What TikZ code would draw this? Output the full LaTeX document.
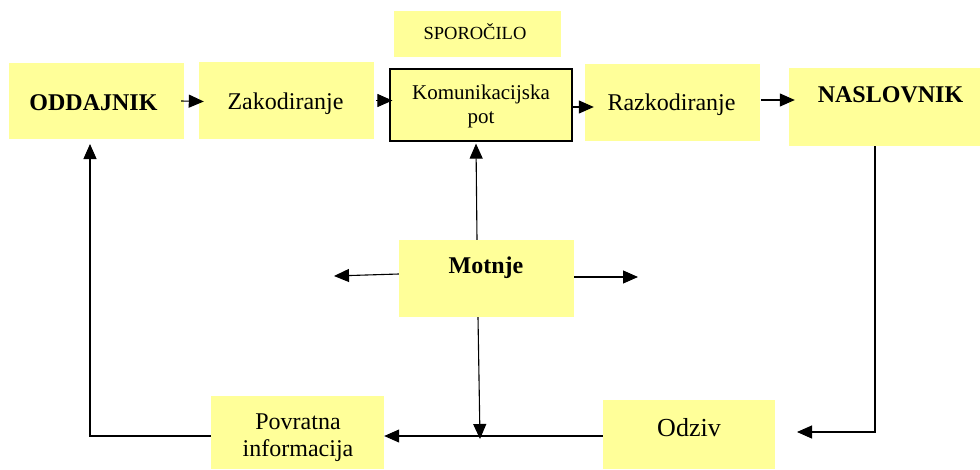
\documentclass[tikz,border=0pt]{standalone}
\usepackage{fontspec}
\setmainfont{Liberation Serif}
\usetikzlibrary{arrows.meta}
\definecolor{boxyellow}{HTML}{FFFF99}
\begin{document}
\begin{tikzpicture}[x=1pt,y=-1pt,
  box/.style={fill=boxyellow, draw=none, inner sep=0pt, anchor=center},
  framed/.style={box, draw=black, line width=1.2pt},
  txt/.style={anchor=base, inner sep=0pt, align=center},
  arr/.style={draw=black, line width=1.1pt, -{Triangle[length=15pt,width=13pt]}},
  ln/.style={draw=black, line width=1.1pt}]
\useasboundingbox (0,0) rectangle (980,469);
% boxes
\node[box, minimum width=175pt, minimum height=76pt] (odd) at (96.5,101) {};
\node[box, minimum width=175pt, minimum height=77pt] (zak) at (286.5,100.5) {};
\node[box, minimum width=167pt, minimum height=46pt] (spo) at (477.5,34) {};
\node[framed, minimum width=182pt, minimum height=72pt] (kom) at (481,105) {};
\node[box, minimum width=175pt, minimum height=77pt] (raz) at (672.5,102.5) {};
\node[box, minimum width=191pt, minimum height=78pt] (nas) at (884.5,107) {};
\node[box, minimum width=175pt, minimum height=77pt] (mot) at (486.5,278.5) {};
\node[box, minimum width=173pt, minimum height=73pt] (pov) at (297.5,432.5) {};
\node[box, minimum width=172pt, minimum height=69pt] (odz) at (689,434.5) {};
% texts
\node[txt, font=\fontsize{24}{27}\selectfont\bfseries] (oddT) at (93.5,110) {ODDAJNIK};
\node[txt, font=\fontsize{24}{27}\selectfont] (zakT) at (285.5,109) {Zakodiranje};
\node[txt, font=\fontsize{18.5}{22}\selectfont] (spoT) at (475,39) {SPOROČILO};
\node[txt, font=\fontsize{21}{24}\selectfont] (komT) at (481,123) {Komunikacijska\\pot};
\node[txt, font=\fontsize{24}{27}\selectfont] (razT) at (671.5,110) {Razkodiranje};
\node[txt, font=\fontsize{24}{27}\selectfont\bfseries] (nasT) at (890.5,102) {NASLOVNIK};
\node[txt, font=\fontsize{24}{27}\selectfont\bfseries] (motT) at (486,273) {Motnje};
\node[txt, font=\fontsize{24}{27}\selectfont] (povT) at (298,456) {Povratna\\informacija};
\node[txt, font=\fontsize{26}{29}\selectfont] (odzT) at (689,436) {Odziv};
% free ends
\coordinate (nasC) at (875,432);
\coordinate (odzTip) at (797,432);
\coordinate (mLeft) at (334,276);
\coordinate (mRight) at (638,277);
\coordinate (mBot) at (480,439);
\coordinate (oddTip) at (90,144);
% connectors
\draw[arr] ([xshift=-3pt]odd.east) -- ([xshift=5pt,yshift=-1pt]zak.west);
\draw[arr] ([xshift=2pt]zak.east) -- ([xshift=3pt]zak.east -| kom.west);
\draw[arr] ([yshift=-2pt]kom.east) -- ([yshift=-2pt,xshift=9pt]kom.east -| raz.west);
\draw[arr] ([xshift=1pt,yshift=2.5pt]raz.east) -- ([xshift=6pt,yshift=2.5pt]raz.east -| nas.west);
\draw[arr] (nas.south -| nasC) -- (nasC) -- (odzTip);
\draw[arr] ([xshift=-9.5pt]mot.north) -- ([xshift=-5pt,yshift=-2pt]kom.south);
\draw[arr] ([yshift=4.5pt]mot.west) -- (mLeft);
\draw[arr] ([yshift=1.5pt]mot.east) -- (mRight);
\draw[arr] ([xshift=-8.5pt]mot.south) -- (mBot);
\draw[arr] ([yshift=-1.5pt]odz.west) -- ([yshift=-3.5pt]pov.east);
\draw[arr] ([yshift=-3.5pt]pov.west) -| (oddTip);
\end{tikzpicture}
\end{document}
